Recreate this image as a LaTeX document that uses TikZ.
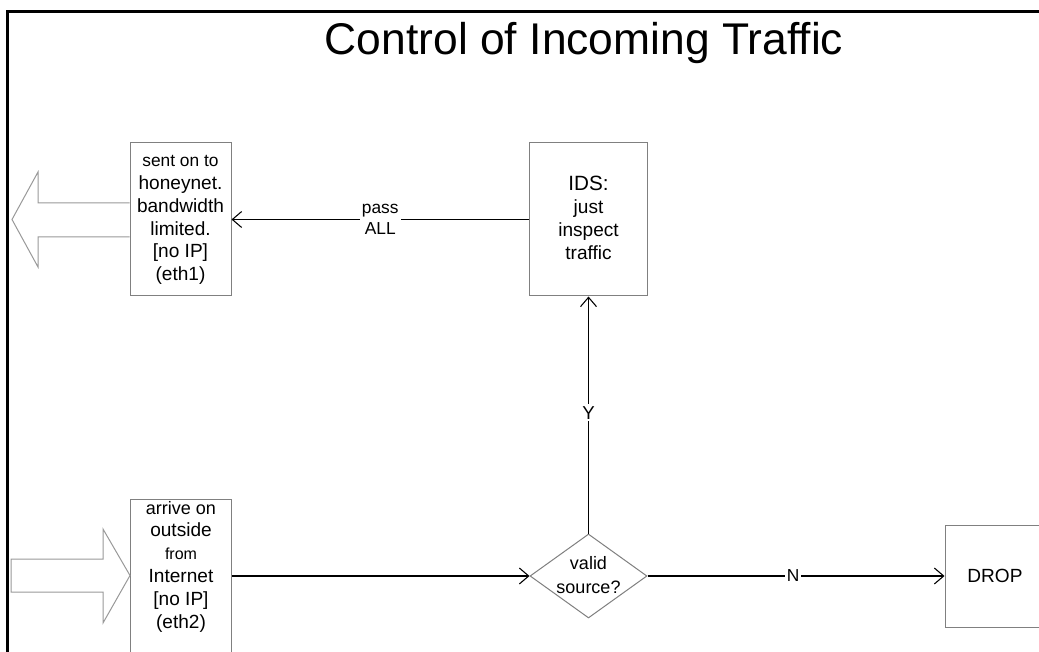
\documentclass[tikz,border=0pt]{standalone}
\usepackage{fontspec}
\setmainfont{Liberation Sans}
\usetikzlibrary{arrows.meta,shapes.geometric}
\definecolor{boxgray}{gray}{0.5}
\definecolor{arrgray}{gray}{0.6}
\tikzset{
  box/.style={draw=boxgray,line width=0.75pt,minimum width=#1,inner sep=0pt},
  txt/.style={align=center,font=\fontsize{14.3}{17.1}\selectfont,inner sep=0pt},
  conn/.style={draw=black,line width=0.8pt,-{Straight Barb[length=7pt,width=12pt,line width=0.8pt]}},
  plain/.style={draw=black,line width=0.8pt},
  lbl/.style={fill=white,inner sep=1.5pt,align=center,font=\fontsize{13}{15.5}\selectfont},
  hollow/.style={draw=arrgray,line width=0.75pt,line join=miter},
}
\begin{document}
\begin{tikzpicture}[x=0.75pt,y=-0.75pt]
\useasboundingbox (0,0) rectangle (1039,652);
\clip (0,0) rectangle (1039,652);
\fill[white] (0,0) rectangle (1039,652);
% frame
\draw[line width=2.25pt,line cap=rect] (7.5,660) -- (7.5,11.5) -- (1045,11.5);
% title
\node[inner sep=0pt,anchor=base,font=\fontsize{33.3}{38}\selectfont] (title) at (584,55) {Control of Incoming Traffic};
% boxes
\node[box=101*0.75pt,minimum height=153*0.75pt] (sent) at (180.5,219.5) {};
\node[txt] (senttxt) at (180.5,220) {{\fontsize{13}{17.1}\selectfont sent on to}\\honeynet.\\bandwidth\\limited.\\{}[no IP]\\(eth1)};
\node[box=118*0.75pt,minimum height=153*0.75pt] (ids) at (588.5,219.5) {};
\node[txt] (idstxt) at (588.5,218) {{\fontsize{15.5}{17.1}\selectfont IDS:}\\just\\inspect\\traffic};
\node[box=101*0.75pt,minimum height=153*0.75pt] (arrive) at (181,575.5) {};
\node[txt] (arrivetxt) at (181,566.5) {{\fontsize{13.5}{17.1}\selectfont arrive on}\\outside\\{\fontsize{12}{17.1}\selectfont from}\\Internet\\{}[no IP]\\(eth2)};
\node[diamond,draw=boxgray,line width=0.75pt,inner sep=0pt,minimum width=117*0.75pt,minimum height=84*0.75pt] (valid) at (588.5,576) {};
\node[txt,font=\fontsize{13.5}{17.5}\selectfont] (validtxt) at (588.5,575) {valid\\source?};
\node[box=100*0.75pt,minimum height=102*0.75pt] (drop) at (995,576) {};
\node[txt] (droptxt) at (995,576) {DROP};
% connectors
\draw[conn] (ids.west) -- node[lbl] {pass\\ALL} (sent.east |- ids.west);
\draw[conn] (arrive.east |- valid.west) -- (valid.west);
\draw[conn] (valid.north) -- node[lbl,pos=0.51,font=\fontsize{14}{16}\selectfont] {Y} (ids.south);
\draw[conn] (valid.east) -- node[lbl,pos=0.49] {N} (drop.west);
% hollow arrows
\draw[hollow] (sent.west |- 0,203) -- (38,203) -- (38,172) -- (12,219.5) -- (38,267) -- (38,237) -- (sent.west |- 0,237);
\draw[hollow] (11,559) -- (103,559) -- (103,529) -- (arrive.west |- 0,575.5) -- (103,623) -- (103,592) -- (11,592) -- cycle;
\end{tikzpicture}
\end{document}
